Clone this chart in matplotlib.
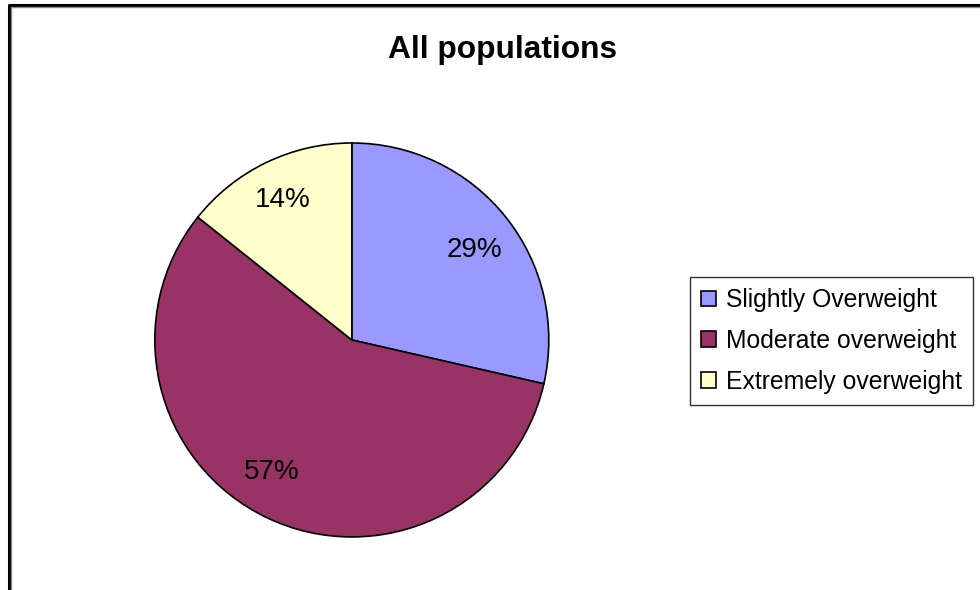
import matplotlib
matplotlib.use("Agg")
import matplotlib.pyplot as plt
from matplotlib.lines import Line2D

plt.rcParams['font.family'] = ['Liberation Sans', 'DejaVu Sans']

labels = ["Slightly Overweight", "Moderate overweight", "Extremely overweight"]
values = [2, 4, 1]
colors = ["#9999FF", "#993366", "#FFFFCC"]

fig = plt.figure(figsize=(9.8, 5.9), dpi=100)
ax = fig.add_axes([0.158, 0.0898, 0.402, 0.668])

wedges, texts, autotexts = ax.pie(
    values,
    colors=colors,
    startangle=90,
    counterclock=False,
    autopct="%1.0f%%",
    pctdistance=0.78,
    wedgeprops=dict(edgecolor="black", linewidth=1.2, clip_on=False),
    textprops=dict(fontsize=20, color="black"),
)
ax.set_xlim(-1, 1)
ax.set_ylim(-1, 1)
ax.set_aspect("equal")

# small nudges of the percentage labels, as placed in the original
nudges = [(0.015, -0.03), (-0.07, 0.03), (-0.01, 0.01)]
for t, (dx, dy) in zip(autotexts, nudges):
    x, y = t.get_position()
    t.set_position((x + dx, y + dy))

fig.text(0.513, 0.915, "All populations", ha="center", va="center",
         fontsize=22.8, fontweight="bold")

leg = ax.legend(
    wedges, labels,
    loc="upper left",
    bbox_to_anchor=(690 / 980, 1 - 277 / 590),
    bbox_transform=fig.transFigure,
    borderaxespad=0,
    fontsize=17.8,
    frameon=True,
    fancybox=False,
    handlelength=0.6,
    handleheight=0.6,
    handletextpad=0.4,
    labelspacing=0.68,
    borderpad=0.45,
)
leg.get_frame().set_edgecolor("black")
leg.get_frame().set_linewidth(1.0)

# outer frame (top and left edges visible)
fig.add_artist(Line2D([8.5 / 980, 8.5 / 980, 1.0], [0.0, 1 - 4.5 / 590, 1 - 4.5 / 590],
                      transform=fig.transFigure, color="black", linewidth=2.2))
fig.add_artist(Line2D([10.5 / 980, 10.5 / 980, 1.0], [0.0, 1 - 6.5 / 590, 1 - 6.5 / 590],
                      transform=fig.transFigure, color="#888888", linewidth=1.0))

fig.savefig("out.png", dpi=100)
